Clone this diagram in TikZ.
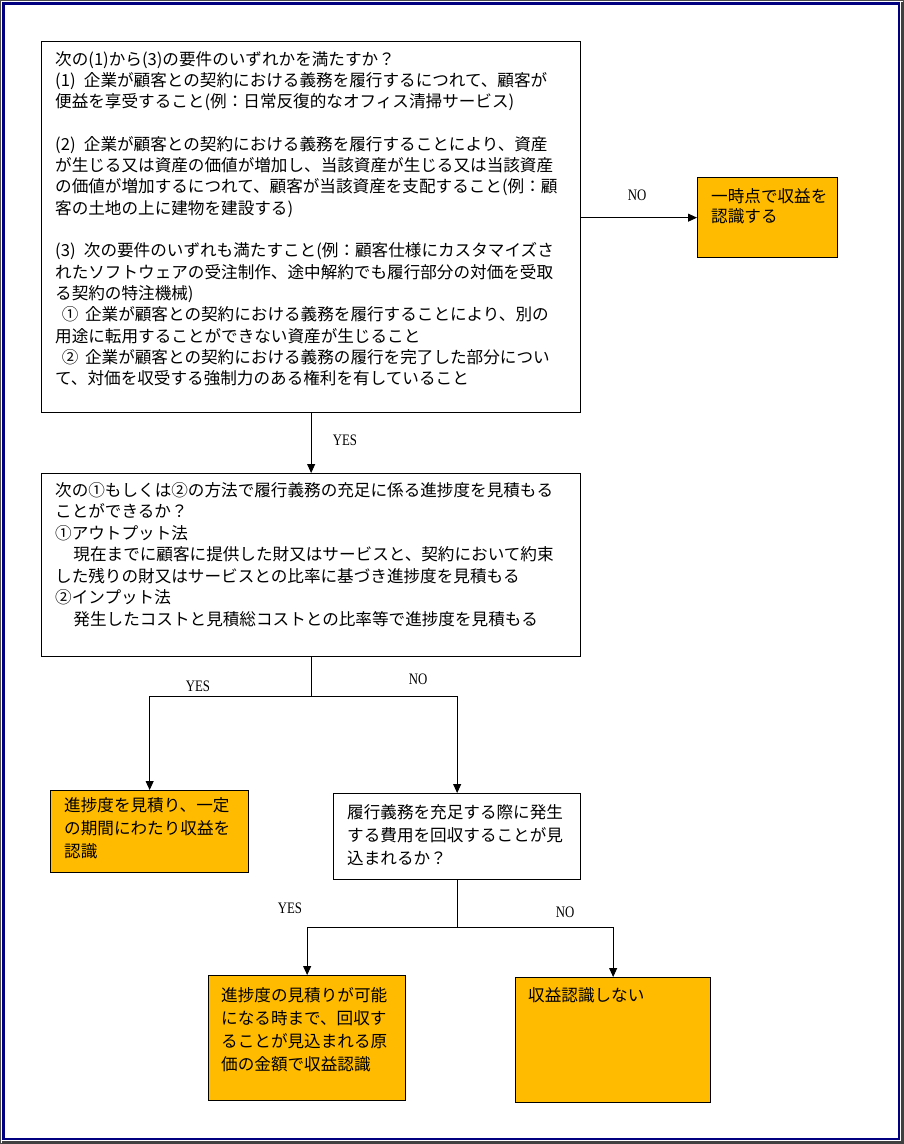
\documentclass[tikz,border=0pt]{standalone}
\usepackage{fontspec}
\setmainfont{Liberation Serif}
\newfontfamily\jp{Noto Sans CJK JP}
\newfontfamily\lblfont{Liberation Serif}[FakeStretch=0.8]
\usetikzlibrary{arrows.meta}
\definecolor{boxorange}{RGB}{255,187,0}
\definecolor{framenavy}{RGB}{0,0,128}
\tikzset{
  box/.style={draw=black, line width=1.3pt, fill=white, inner sep=0pt, anchor=north west},
  obox/.style={box, fill=boxorange},
  jtxt/.style={inner sep=0pt, anchor=north west, align=left, font=\jp\fontsize{16.6}{20.3}\selectfont},
  jtxta/.style={jtxt, font=\jp\fontsize{16.6}{21.3}\selectfont},
  jtxtb/.style={jtxt, font=\jp\fontsize{16.6}{21.5}\selectfont},
  jtxts/.style={jtxt, font=\jp\fontsize{16.6}{23}\selectfont},
  lbl/.style={font=\lblfont\fontsize{16}{18}\selectfont, inner sep=0pt},
  arr/.style={-{Triangle[length=9pt,width=8pt]}, line width=0.9pt},
  conn/.style={line width=0.9pt}
}
\begin{document}
\begin{tikzpicture}[x=1pt,y=-1pt]
\useasboundingbox (0,0) rectangle (904,1144);
% frame
\draw[black!70, line width=1pt] (0.5,0.5) rectangle (903.5,1143.5);
\draw[black!75, line width=3pt] (902.5,2) -- (902.5,1142.5) -- (2,1142.5);
\draw[framenavy, line width=2.5pt] (3.5,3.5) rectangle (899,1139);

% boxes
\node[box, minimum width=539pt, minimum height=371pt] (b1) at (41,41) {};
\node[obox, minimum width=140pt, minimum height=80pt] (r1) at (697,177) {};
\node[box, minimum width=539pt, minimum height=183pt] (b2) at (41,473) {};
\node[obox, minimum width=198pt, minimum height=82pt] (o1) at (50,790) {};
\node[box, minimum width=247pt, minimum height=86pt] (w1) at (333,793) {};
\node[obox, minimum width=197pt, minimum height=125pt] (o2) at (208,975) {};
\node[obox, minimum width=195pt, minimum height=125pt] (o3) at (515,977) {};

% texts
\node[jtxta] (t1) at (55,51) {次の(1)から(3)の要件のいずれかを満たすか？\\
(1)\hspace{0.5em}企業が顧客との契約における義務を履行するにつれて、顧客が\\
便益を享受すること(例：日常反復的なオフィス清掃サービス)\\
~\\
(2)\hspace{0.5em}企業が顧客との契約における義務を履行することにより、資産\\
が生じる又は資産の価値が増加し、当該資産が生じる又は当該資産\\
の価値が増加するにつれて、顧客が当該資産を支配すること(例：顧\\
客の土地の上に建物を建設する)\\
~\\
(3)\hspace{0.5em}次の要件のいずれも満たすこと(例：顧客仕様にカスタマイズさ\\
れたソフトウェアの受注制作、途中解約でも履行部分の対価を受取\\
る契約の特注機械)\\
\hspace*{0.4em}①\hspace{0.4em}企業が顧客との契約における義務を履行することにより、別の\\
用途に転用することができない資産が生じること\\
\hspace*{0.4em}②\hspace{0.4em}企業が顧客との契約における義務の履行を完了した部分につい\\
て、対価を収受する強制力のある権利を有していること};

\node[jtxt] (tr1) at (711,188) {一時点で収益を\\認識する};

\node[jtxtb] (t2) at (55,482) {次の①もしくは②の方法で履行義務の充足に係る進捗度を見積もる\\
ことができるか？\\
①アウトプット法\\
\hspace*{1.1em}現在までに顧客に提供した財又はサービスと、契約において約束\\
した残りの財又はサービスとの比率に基づき進捗度を見積もる\\
②インプット法\\
\hspace*{1.1em}発生したコストと見積総コストとの比率等で進捗度を見積もる};

\node[jtxts] (to1) at (64,797) {進捗度を見積り、一定\\の期間にわたり収益を\\認識};
\node[jtxts] (tw1) at (347,804) {履行義務を充足する際に発生\\する費用を回収することが見\\込まれるか？};
\node[jtxts] (to2) at (221,987) {進捗度の見積りが可能\\になる時まで、回収す\\ることが見込まれる原\\価の金額で収益認識};
\node[jtxts] (to3) at (528,987) {収益認識しない};

% connectors
\draw[arr] (b1.east |- r1.west) -- (r1.west);
\node[lbl] (lno1) at (637,195) {NO};

\draw[arr] (b1.south) -- (b2.north);
\node[lbl] (lyes1) at (345,440) {YES};

\coordinate (j1) at (b2.south |- 0,696);
\coordinate (j1l) at (o1.north |- j1);
\coordinate (j1r) at (w1.north |- j1);
\draw[conn] (b2.south) -- (j1) (j1l) -- (j1r);
\draw[arr] (j1l) -- (o1.north);
\draw[arr] (j1r) -- (w1.north);
\node[lbl] (lyes2) at (198,686) {YES};
\node[lbl] (lno2) at (418,679) {NO};

\coordinate (j2) at (w1.south |- 0,927);
\coordinate (j2l) at (o2.north |- j2);
\coordinate (j2r) at (o3.north |- j2);
\draw[conn] (w1.south) -- (j2) (j2l) -- (j2r);
\draw[arr] (j2l) -- (o2.north);
\draw[arr] (j2r) -- (o3.north);
\node[lbl] (lyes3) at (290,908) {YES};
\node[lbl] (lno3) at (565,912) {NO};
\end{tikzpicture}
\end{document}
